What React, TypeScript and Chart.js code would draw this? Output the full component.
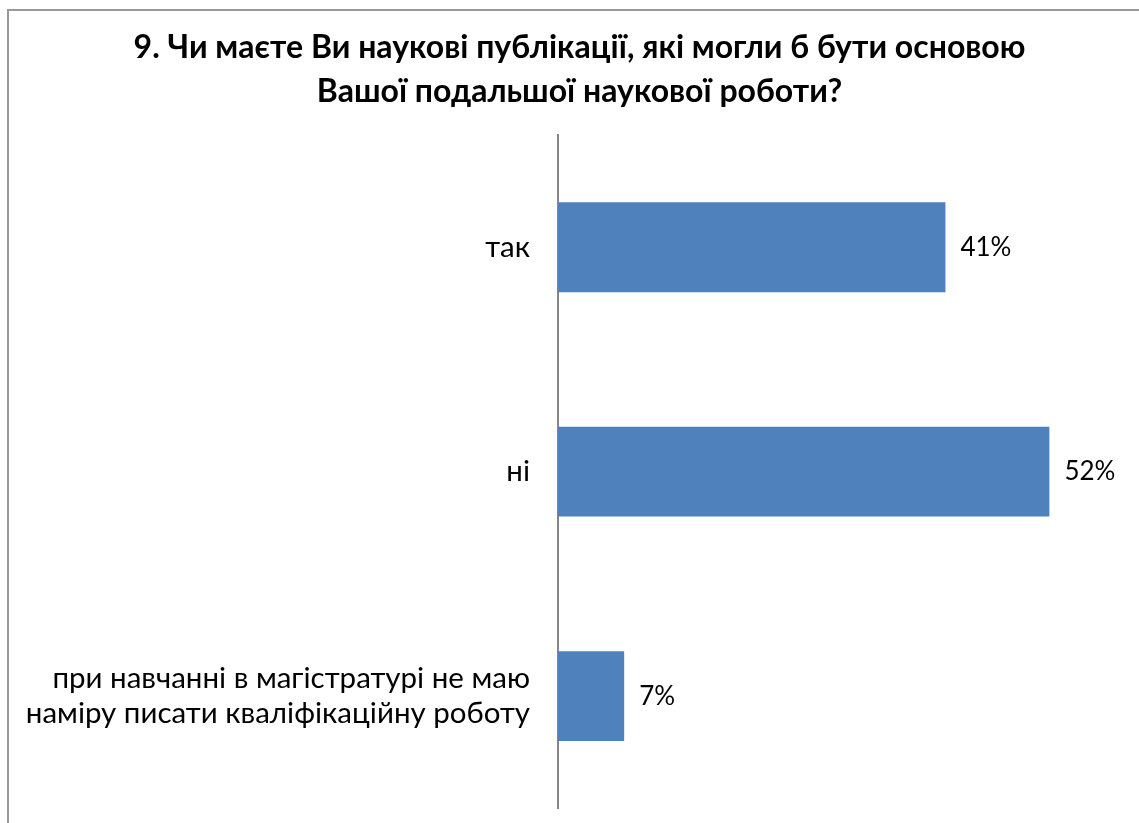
import React, { useEffect, useRef } from "react";
import { Chart, registerables } from "chart.js";

Chart.register(...registerables);

const TITLE_LINES = [
  "9. Чи маєте Ви наукові публікації, які могли б бути основою",
  "Вашої подальшої наукової роботи?",
];
const CATEGORIES: (string | string[])[] = [
  "так",
  "ні",
  ["при навчанні в магістратурі не маю", "наміру писати кваліфікаційну роботу"],
];
const VALUES = [41, 52, 7];
const X_MIN = 0;
const X_MAX = 60;

const FONT = "Lato, 'Noto Sans', sans-serif";

const valueLabels = {
  id: "valueLabels",
  afterDatasetsDraw(chart: any) {
    const ctx = chart.ctx;
    const meta = chart.getDatasetMeta(0);
    ctx.save();
    ctx.font = `26px ${FONT}`;
    ctx.fillStyle = "#000000";
    ctx.textAlign = "left";
    ctx.textBaseline = "middle";
    meta.data.forEach((bar: any, i: number) => {
      ctx.fillText(`${VALUES[i]}%`, bar.x + 15, bar.y);
    });
    ctx.restore();
  },
};

export default function App() {
  const ref = useRef<HTMLCanvasElement>(null);
  useEffect(() => {
    if (!ref.current) return;
    const chart = new Chart(ref.current, {
      type: "bar",
      data: {
        labels: CATEGORIES,
        datasets: [
          {
            data: VALUES,
            backgroundColor: "#4F81BD",
            borderWidth: 0,
            barPercentage: 0.4,
            categoryPercentage: 1,
          },
        ],
      },
      options: {
        indexAxis: "y",
        responsive: false,
        animation: false,
        layout: { padding: { left: 0, right: 0, top: 0, bottom: 0 } },
        plugins: {
          legend: { display: false },
          tooltip: { enabled: false },
          title: {
            display: true,
            text: TITLE_LINES,
            color: "#000000",
            font: { family: FONT, size: 32, weight: "bold", lineHeight: 1.375 },
            padding: { top: 16, bottom: 21 },
          },
        },
        scales: {
          x: { display: false, min: X_MIN, max: X_MAX },
          y: {
            grid: { display: false, drawTicks: false },
            border: { display: true, color: "#868686", width: 2 },
            ticks: {
              color: "#000000",
              padding: 28,
              font: { family: FONT, size: 29.5, lineHeight: 1.19 },
            },
            afterFit: (scale: any) => {
              scale.width = 550;
            },
          },
          yRight: {
            type: "category",
            position: "right",
            grid: { display: false, drawTicks: false },
            border: { display: false },
            ticks: { display: false },
            afterFit: (scale: any) => {
              scale.width = 26;
            },
          },
        },
      },
      plugins: [valueLabels],
    });
    return () => chart.destroy();
  }, []);

  return (
    <div
      style={{
        position: "fixed",
        left: 0,
        top: 0,
        width: 1139,
        height: 823,
        overflow: "hidden",
        background: "#ffffff",
      }}
    >
      <div
        style={{
          position: "absolute",
          left: 7,
          top: 9,
          width: 1160,
          height: 900,
          border: "2px solid #9a9a9a",
        }}
      />
      <canvas
        ref={ref}
        width={1143}
        height={844}
        style={{ position: "absolute", left: 8, top: 10 }}
      />
    </div>
  );
}
